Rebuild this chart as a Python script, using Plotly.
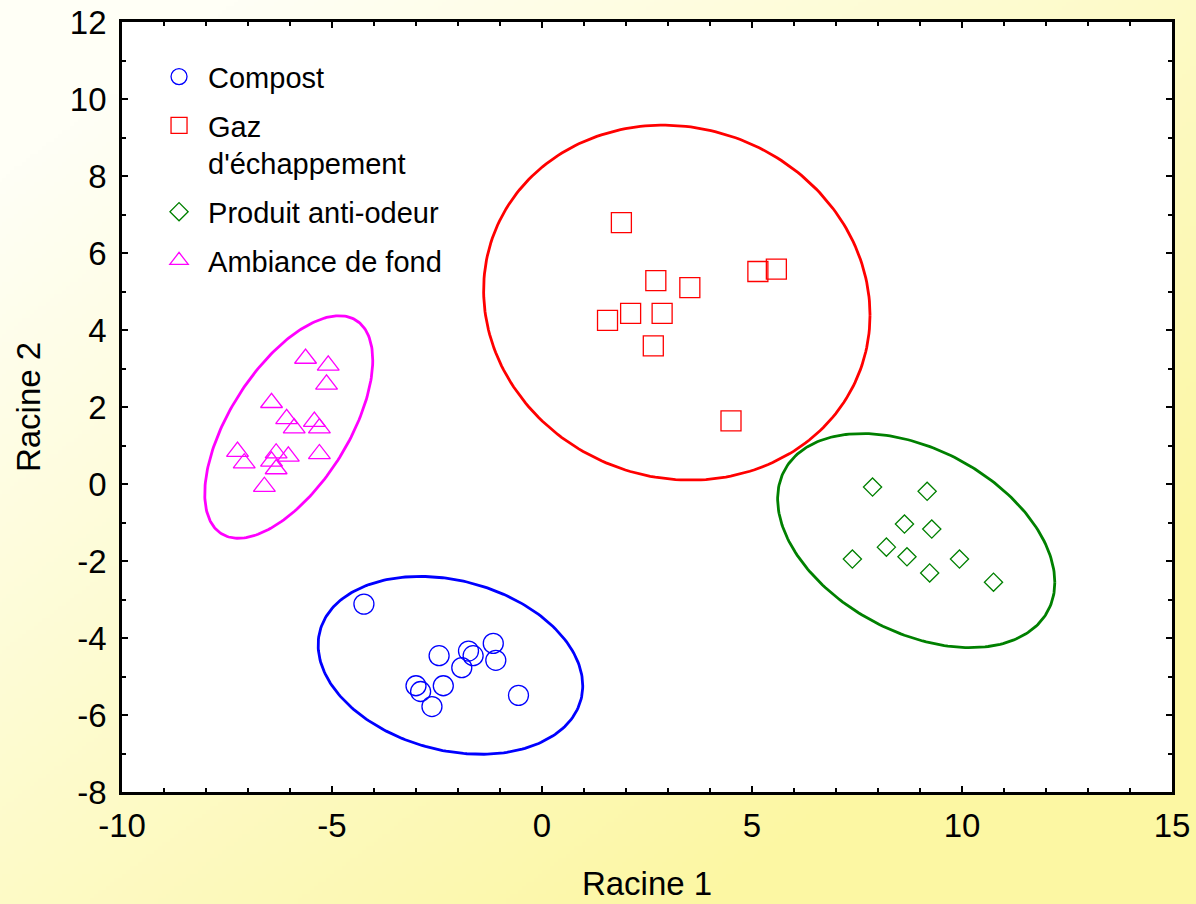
import base64
import struct
import zlib

import numpy as np
import plotly.graph_objects as go

# ---------------- data ----------------
compost_x = [-4.24, -2.45, -1.75, -1.64, -1.16, -1.10, -1.91, -3.00, -2.89, -2.35, -2.62, -0.56]
compost_y = [-3.12, -4.46, -4.34, -4.46, -4.14, -4.58, -4.77, -5.24, -5.39, -5.24, -5.78, -5.49]

gaz_x = [1.89, 2.71, 3.52, 5.14, 5.58, 2.11, 2.86, 1.56, 2.65, 4.50]
gaz_y = [6.79, 5.28, 5.10, 5.52, 5.58, 4.43, 4.43, 4.25, 3.59, 1.64]

produit_x = [7.87, 9.17, 8.63, 9.28, 8.20, 8.69, 7.39, 9.94, 9.23, 10.75]
produit_y = [-0.08, -0.19, -1.04, -1.17, -1.64, -1.89, -1.95, -1.95, -2.31, -2.55]

ambiance_x = [-5.63, -5.09, -5.13, -6.44, -6.08, -5.90, -5.42, -5.30,
              -7.25, -7.09, -6.33, -6.04, -6.44, -6.33, -5.30, -6.61]
ambiance_y = [3.26, 3.08, 2.59, 2.11, 1.69, 1.45, 1.62, 1.45,
              0.84, 0.54, 0.80, 0.72, 0.59, 0.39, 0.78, -0.07]

group_names = ["Compost", "Gaz<br>d'échappement", "Produit anti-odeur", "Ambiance de fond"]

# confidence ellipses: centre, half-width, half-height, correlation
ellipse_cx = [-2.18, 3.21, 8.91, -6.03]
ellipse_cy = [-4.71, 4.71, -1.47, 1.48]
ellipse_w = [3.15, 4.60, 3.30, 2.00]
ellipse_h = [2.31, 4.61, 2.78, 2.89]
ellipse_rho = [-0.23, -0.07, -0.39, 0.60]

x_tickvals = [-10, -5, 0, 5, 10, 15]
x_ticktext = ["-10", "-5", "0", "5", "10", "15"]
y_tickvals = [-8, -6, -4, -2, 0, 2, 4, 6, 8, 10, 12]
y_ticktext = ["-8", "-6", "-4", "-2", "0", "2", "4", "6", "8", "10", "12"]

# ---------------- styles ----------------
colors = ["#0000FF", "#FF0000", "#008000", "#FF00FF"]
symbols = ["circle-open", "square-open", "diamond-open", "triangle-up-open"]
sizes = [20, 20, 14, 19]
FONT = "Arial, 'Liberation Sans', sans-serif"

FIG_W, FIG_H = 1196, 904
M_L, M_R, M_T, M_B = 122, 24, 22, 112


def gradient_png(w, h):
    yy, xx = np.mgrid[0:h, 0:w]
    u = (xx / (w - 1) + yy / (h - 1)) / 2.0
    t = np.clip((u - 0.1) / 0.7, 0, 1)
    c0 = np.array([255, 255, 246], dtype=float)
    c1 = np.array([252, 247, 163], dtype=float)
    img = (c0[None, None, :] * (1 - t[..., None]) + c1[None, None, :] * t[..., None]).astype(np.uint8)
    raw = b"".join(b"\x00" + img[j].tobytes() for j in range(h))

    def chunk(tag, data):
        return (struct.pack(">I", len(data)) + tag + data
                + struct.pack(">I", zlib.crc32(tag + data) & 0xFFFFFFFF))

    png = (b"\x89PNG\r\n\x1a\n"
           + chunk(b"IHDR", struct.pack(">IIBBBBB", w, h, 8, 2, 0, 0, 0))
           + chunk(b"IDAT", zlib.compress(raw, 9))
           + chunk(b"IEND", b""))
    return "data:image/png;base64," + base64.b64encode(png).decode()


fig = go.Figure()

groups_x = [compost_x, gaz_x, produit_x, ambiance_x]
groups_y = [compost_y, gaz_y, produit_y, ambiance_y]

for i in range(4):
    t = np.linspace(0, 2 * np.pi, 240)
    ex = ellipse_cx[i] + ellipse_w[i] * np.cos(t)
    ey = ellipse_cy[i] + ellipse_h[i] * (ellipse_rho[i] * np.cos(t)
                                         + np.sqrt(1 - ellipse_rho[i] ** 2) * np.sin(t))
    fig.add_trace(go.Scatter(x=ex, y=ey, mode="lines",
                             line=dict(color=colors[i], width=2.8),
                             showlegend=False, hoverinfo="skip",
                             legendgroup=f"g{i}"))

for i in range(4):
    fig.add_trace(go.Scatter(
        x=groups_x[i], y=groups_y[i], mode="markers", name=group_names[i],
        legendgroup=f"g{i}",
        marker=dict(symbol=symbols[i], size=sizes[i], color=colors[i],
                    line=dict(color=colors[i], width=1.3)),
    ))

plot_w = FIG_W - M_L - M_R
plot_h = FIG_H - M_T - M_B

fig.add_layout_image(dict(
    source=gradient_png(299, 226), xref="paper", yref="paper",
    x=-M_L / plot_w, y=1 + M_T / plot_h, sizex=FIG_W / plot_w, sizey=FIG_H / plot_h,
    xanchor="left", yanchor="top", sizing="stretch", layer="below",
))
fig.add_shape(type="rect", xref="paper", yref="paper", x0=0, x1=1, y0=0, y1=1,
              fillcolor="white", line=dict(width=0), layer="below")

axis_common = dict(
    showgrid=False, zeroline=False, showline=True, linecolor="black", linewidth=2.8,
    mirror="ticks", ticks="inside", ticklen=6, tickwidth=2, tickcolor="black",
    tickfont=dict(family=FONT, size=33, color="black"),
    ticklabeloverflow="allow",
)

fig.update_xaxes(range=[-10, 15], tickvals=x_tickvals, ticktext=x_ticktext,
                 minor=dict(dtick=1, tick0=0, ticks="inside", ticklen=4, tickwidth=1.5,
                            tickcolor="black"),
                 ticklabelstandoff=2,
                 title=dict(text="Racine 1", font=dict(family=FONT, size=33, color="black"),
                            standoff=30),
                 **axis_common)
fig.update_yaxes(range=[-8, 12], tickvals=y_tickvals, ticktext=y_ticktext,
                 minor=dict(dtick=1, tick0=0, ticks="inside", ticklen=4, tickwidth=1.5,
                            tickcolor="black"),
                 ticklabelstandoff=6,
                 title=dict(text="Racine 2", font=dict(family=FONT, size=33, color="black"),
                            standoff=20),
                 **axis_common)

fig.update_layout(
    width=FIG_W, height=FIG_H,
    margin=dict(l=M_L, r=M_R, t=M_T, b=M_B, autoexpand=False),
    paper_bgcolor="#FFFFF6", plot_bgcolor="white",
    font=dict(family=FONT, color="black"),
    legend=dict(x=0.0267, y=0.962, xanchor="left", yanchor="top",
                bgcolor="rgba(0,0,0,0)", borderwidth=0,
                font=dict(family=FONT, size=29, color="black"),
                valign="top", tracegroupgap=8, itemsizing="trace", itemwidth=48),
    showlegend=True,
)

fig.write_html("out.html",
               config={"displayModeBar": False},
               post_script="document.body.style.margin='0px';"
                           "document.body.style.overflow='hidden';")
